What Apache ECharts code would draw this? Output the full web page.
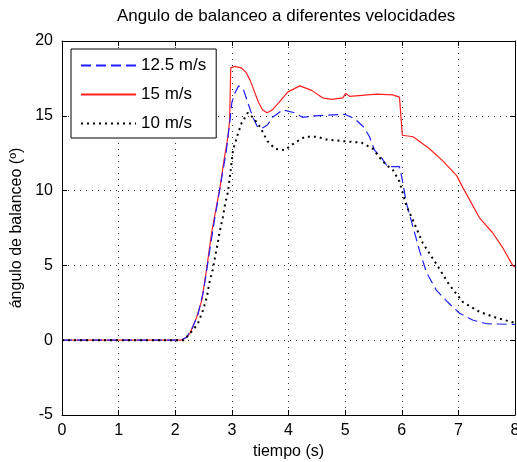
<!DOCTYPE html>
<html>
<head>
<meta charset="utf-8">
<script src="https://cdn.jsdelivr.net/npm/echarts@6/dist/echarts.min.js"></script>
<style>
  html, body { margin: 0; padding: 0; background: #fff; overflow: hidden; }
  #chart { width: 517px; height: 462px; }
</style>
</head>
<body>
<div id="chart"></div>
<script>
// values (time in s, angle in degrees)
const t125 = [0, 2.1, 2.2, 2.3, 2.4, 2.5, 2.6, 2.7, 2.8, 2.9, 2.96, 3.0, 3.05, 3.12, 3.2, 3.28, 3.37, 3.46, 3.55, 3.63, 3.72, 3.9, 4.11, 4.25, 4.46, 4.99, 5.17, 5.34, 5.43, 5.52, 5.64, 5.75, 5.96, 6.0, 6.08, 6.2, 6.32, 6.44, 6.61, 6.81, 7.02, 7.25, 7.5, 8.0];
const v125 = [0, 0, 0.2, 0.8, 1.7, 3.3, 5.8, 8.2, 10.4, 12.6, 14.5, 15.9, 16.5, 17.0, 16.8, 15.9, 14.9, 14.2, 14.2, 14.4, 14.9, 15.4, 15.2, 14.9, 15.0, 15.1, 14.8, 14.2, 13.6, 12.7, 12.2, 11.6, 11.6, 10.9, 9.2, 7.55, 5.9, 4.5, 3.35, 2.55, 1.8, 1.35, 1.1, 1.05];

const t15 = [0, 2.1, 2.2, 2.26, 2.38, 2.47, 2.56, 2.64, 2.75, 2.79, 2.86, 2.93, 2.96, 2.98, 3.05, 3.17, 3.25, 3.32, 3.4, 3.47, 3.54, 3.62, 3.7, 3.81, 3.99, 4.2, 4.41, 4.6, 4.76, 4.96, 5.01, 5.08, 5.56, 5.84, 5.96, 6.01, 6.2, 6.49, 6.72, 6.97, 7.08, 7.37, 7.6, 7.78, 7.96, 8.0];
const v15 = [0, 0, 0.2, 0.47, 1.55, 2.7, 4.9, 7.15, 9.4, 10.2, 12.0, 13.6, 14.7, 18.2, 18.3, 18.2, 17.9, 17.4, 16.6, 15.9, 15.4, 15.2, 15.35, 15.8, 16.6, 17.0, 16.7, 16.2, 16.1, 16.2, 16.5, 16.3, 16.45, 16.4, 16.25, 13.7, 13.6, 12.8, 12.0, 11.0, 10.2, 8.2, 7.2, 6.2, 5.0, 4.9];

const t10 = [0, 2.15, 2.31, 2.4, 2.49, 2.56, 2.6, 2.66, 2.7, 2.75, 2.79, 2.84, 2.88, 2.93, 2.98, 3.02, 3.09, 3.17, 3.28, 3.37, 3.49, 3.63, 3.76, 3.93, 4.11, 4.29, 4.5, 4.69, 4.99, 5.29, 5.49, 5.61, 5.73, 5.84, 5.96, 6.08, 6.2, 6.37, 6.61, 6.84, 7.08, 7.37, 7.67, 7.96, 8.0];
const v10 = [0, 0, 0.67, 1.1, 2.0, 2.9, 3.8, 4.7, 5.5, 6.5, 7.35, 8.2, 9.1, 9.9, 11.4, 12.7, 13.6, 14.5, 15.2, 14.9, 14.3, 13.3, 12.8, 12.7, 13.2, 13.6, 13.6, 13.4, 13.3, 13.2, 12.8, 12.2, 11.7, 11.4, 10.6, 9.0, 8.0, 6.5, 5.1, 3.7, 2.55, 1.9, 1.5, 1.2, 1.15];

const seriesNames = ['12.5 m/s', '15 m/s', '10 m/s'];
const xTicks = { min: 0, max: 8, interval: 1 };
const yTicks = { min: -5, max: 20, interval: 5 };

const FONT = 'Liberation Sans';
const pairs = (ts, vs) => ts.map((t, i) => [t, vs[i]]);

const gridLine = { show: true, lineStyle: { color: '#333', width: 1, type: [1, 5] } };
const frame = { show: true, onZero: false, lineStyle: { color: '#000', width: 1 } };
const tickIn = { show: true, inside: true, length: 5, lineStyle: { color: '#000' } };

const chart = echarts.init(document.getElementById('chart'), null, { renderer: 'canvas' });
chart.setOption({
  animation: false,
  backgroundColor: '#fff',
  textStyle: { fontFamily: FONT },
  title: {
    text: 'Angulo de balanceo a diferentes velocidades',
    left: 112, top: 3,
    textStyle: { fontFamily: FONT, fontSize: 17, fontWeight: 'normal', color: '#000' }
  },
  grid: { left: 62, right: 2, top: 41, bottom: 47, containLabel: false, outerBoundsMode: 'none' },
  legend: {
    data: seriesNames,
    orient: 'vertical',
    left: 71, top: 49,
    padding: [8, 10, 6, 9],
    itemGap: 12,
    itemWidth: 55, itemHeight: 14,
    backgroundColor: '#fff',
    borderColor: '#000', borderWidth: 1,
    itemStyle: { opacity: 0 },
    textStyle: { fontFamily: FONT, fontSize: 17, color: '#000' }
  },
  xAxis: [
    {
      type: 'value', ...xTicks,
      name: 'tiempo (s)', nameLocation: 'middle', nameGap: 29,
      nameTextStyle: { fontFamily: FONT, fontSize: 16, color: '#000' },
      axisLine: frame, axisTick: tickIn, splitLine: gridLine,
      axisLabel: { color: '#000', fontSize: 16, margin: 8, fontFamily: FONT }
    },
    {
      type: 'value', position: 'top', ...xTicks,
      axisLine: frame, axisTick: tickIn, splitLine: { show: false },
      axisLabel: { show: false }
    }
  ],
  yAxis: [
    {
      type: 'value', ...yTicks,
      name: 'ángulo de balanceo (º)', nameLocation: 'middle', nameGap: 34,
      nameTextStyle: { fontFamily: FONT, fontSize: 16, color: '#000' },
      axisLine: frame, axisTick: tickIn, splitLine: gridLine,
      axisLabel: { color: '#000', fontSize: 16, margin: 9, fontFamily: FONT }
    },
    {
      type: 'value', position: 'right', ...yTicks,
      axisLine: frame, axisTick: tickIn, splitLine: { show: false },
      axisLabel: { show: false }
    }
  ],
  series: [
    {
      name: seriesNames[0], type: 'line', data: pairs(t125, v125),
      symbol: 'none', z: 3,
      lineStyle: { color: '#2020ff', width: 1.2, type: [10, 5] },
      itemStyle: { color: '#2020ff' }
    },
    {
      name: seriesNames[1], type: 'line', data: pairs(t15, v15),
      symbol: 'none', z: 2,
      lineStyle: { color: '#ff2020', width: 1.2, type: 'solid' },
      itemStyle: { color: '#ff2020' }
    },
    {
      name: seriesNames[2], type: 'line', data: pairs(t10, v10),
      symbol: 'none', z: 4,
      lineStyle: { color: '#000', width: 2, type: [2, 4] },
      itemStyle: { color: '#000' }
    }
  ]
});
</script>
</body>
</html>
